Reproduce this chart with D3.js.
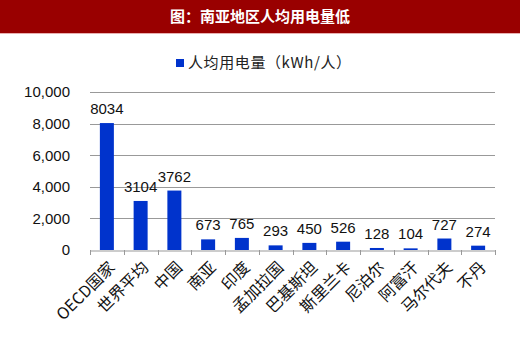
<!DOCTYPE html>
<html>
<head>
<meta charset="utf-8">
<script src="https://cdn.jsdelivr.net/npm/d3@7"></script>
<style>
  body { margin: 0; background: #fff; }
  svg { display: block; }
</style>
</head>
<body>
<div id="chart"></div>
<script>
const title = "图：南亚地区人均用电量低"
const seriesName = "人均用电量（kWh/人）"
const categories = ["OECD国家", "世界平均", "中国", "南亚", "印度", "孟加拉国", "巴基斯坦", "斯里兰卡", "尼泊尔", "阿富汗", "马尔代夫", "不丹"]
const values = [8034, 3104, 3762, 673, 765, 293, 450, 526, 128, 104, 727, 274]
const yTicks = [0, 2000, 4000, 6000, 8000, 10000]

const width = 520, height = 361
const margin = {top: 92, right: 25, bottom: 111, left: 90}
const cjk = "'Noto Sans CJK SC', sans-serif"

const svg = d3.select("#chart").append("svg")
    .attr("width", width)
    .attr("height", height)

// title banner
svg.append("rect")
    .attr("width", width)
    .attr("height", 33)
    .attr("fill", "#990000")
svg.append("rect")
    .attr("y", 33)
    .attr("width", width)
    .attr("height", 1)
    .attr("fill", "#e8b0b0")
svg.append("text")
    .attr("x", width / 2)
    .attr("y", 22)
    .attr("text-anchor", "middle")
    .attr("fill", "#fff")
    .attr("font-family", cjk)
    .attr("font-weight", "bold")
    .attr("font-size", 15)
    .text(title)

const x = d3.scaleBand()
    .domain(categories)
    .range([margin.left, width - margin.right])

const y = d3.scaleLinear()
    .domain([0, 10000])
    .range([height - margin.bottom, margin.top])

// gridlines
svg.append("g")
    .attr("stroke", "#999")
    .attr("stroke-width", 1.2)
  .selectAll("line")
  .data(yTicks.filter(d => d > 0))
  .enter().append("line")
    .attr("x1", margin.left)
    .attr("x2", width - margin.right)
    .attr("y1", d => Math.round(y(d)) + 0.5)
    .attr("y2", d => Math.round(y(d)) + 0.5)

// y axis labels
const yAxis = svg.append("g")
    .attr("transform", "translate(" + (margin.left - 4) + ",0)")
    .call(d3.axisLeft(y).tickValues(yTicks).tickFormat(d3.format(",")).tickSize(0).tickPadding(16))
yAxis.select(".domain").remove()
yAxis.selectAll("text")
    .attr("font-family", "'Liberation Sans', Arial, sans-serif")
    .attr("font-size", 15)
    .attr("fill", "#111")

// bars
svg.append("g")
    .attr("fill", "#0033cc")
  .selectAll("rect")
  .data(values)
  .enter().append("rect")
    .attr("x", (d, i) => x(categories[i]) + x.bandwidth() / 2 - 7)
    .attr("y", d => y(d))
    .attr("width", 14)
    .attr("height", d => y(0) - y(d))

// value labels
svg.append("g")
    .attr("font-family", "'Liberation Sans', Arial, sans-serif")
    .attr("font-size", 15)
    .attr("fill", "#111")
    .attr("text-anchor", "middle")
  .selectAll("text")
  .data(values)
  .enter().append("text")
    .attr("x", (d, i) => x(categories[i]) + x.bandwidth() / 2)
    .attr("y", d => y(d) - 9)
    .text(d => d)

// x axis
const xAxis = svg.append("g")
    .attr("transform", "translate(0," + (y(0) + 0.5) + ")")
    .call(d3.axisBottom(x).tickSizeOuter(0).tickSize(0))
xAxis.select(".domain").attr("stroke", "#999").attr("stroke-width", 1.2)
xAxis.selectAll(".tick line").remove()

// category boundary ticks
svg.append("g")
    .attr("stroke", "#999")
  .selectAll("line")
  .data(d3.range(categories.length + 1))
  .enter().append("line")
    .attr("x1", i => Math.round(margin.left + i * x.step()) + 0.5)
    .attr("x2", i => Math.round(margin.left + i * x.step()) + 0.5)
    .attr("y1", y(0))
    .attr("y2", y(0) + 5)

xAxis.selectAll(".tick text")
    .attr("font-family", cjk)
    .attr("font-size", 16)
    .attr("fill", "#111")
    .attr("text-anchor", "end")
    .attr("dy", null)
    .attr("y", 0)
    .attr("transform", "translate(9,18) rotate(-45)")

// legend
const legend = svg.append("g")
    .attr("transform", "translate(176,59)")
legend.append("rect")
    .attr("width", 8)
    .attr("height", 8)
    .attr("fill", "#0033cc")
legend.append("text")
    .attr("x", 12)
    .attr("y", 9)
    .attr("font-family", cjk)
    .attr("font-size", 15)
    .attr("letter-spacing", 0.6)
    .attr("fill", "#222")
    .text(seriesName)
</script>
</body>
</html>
